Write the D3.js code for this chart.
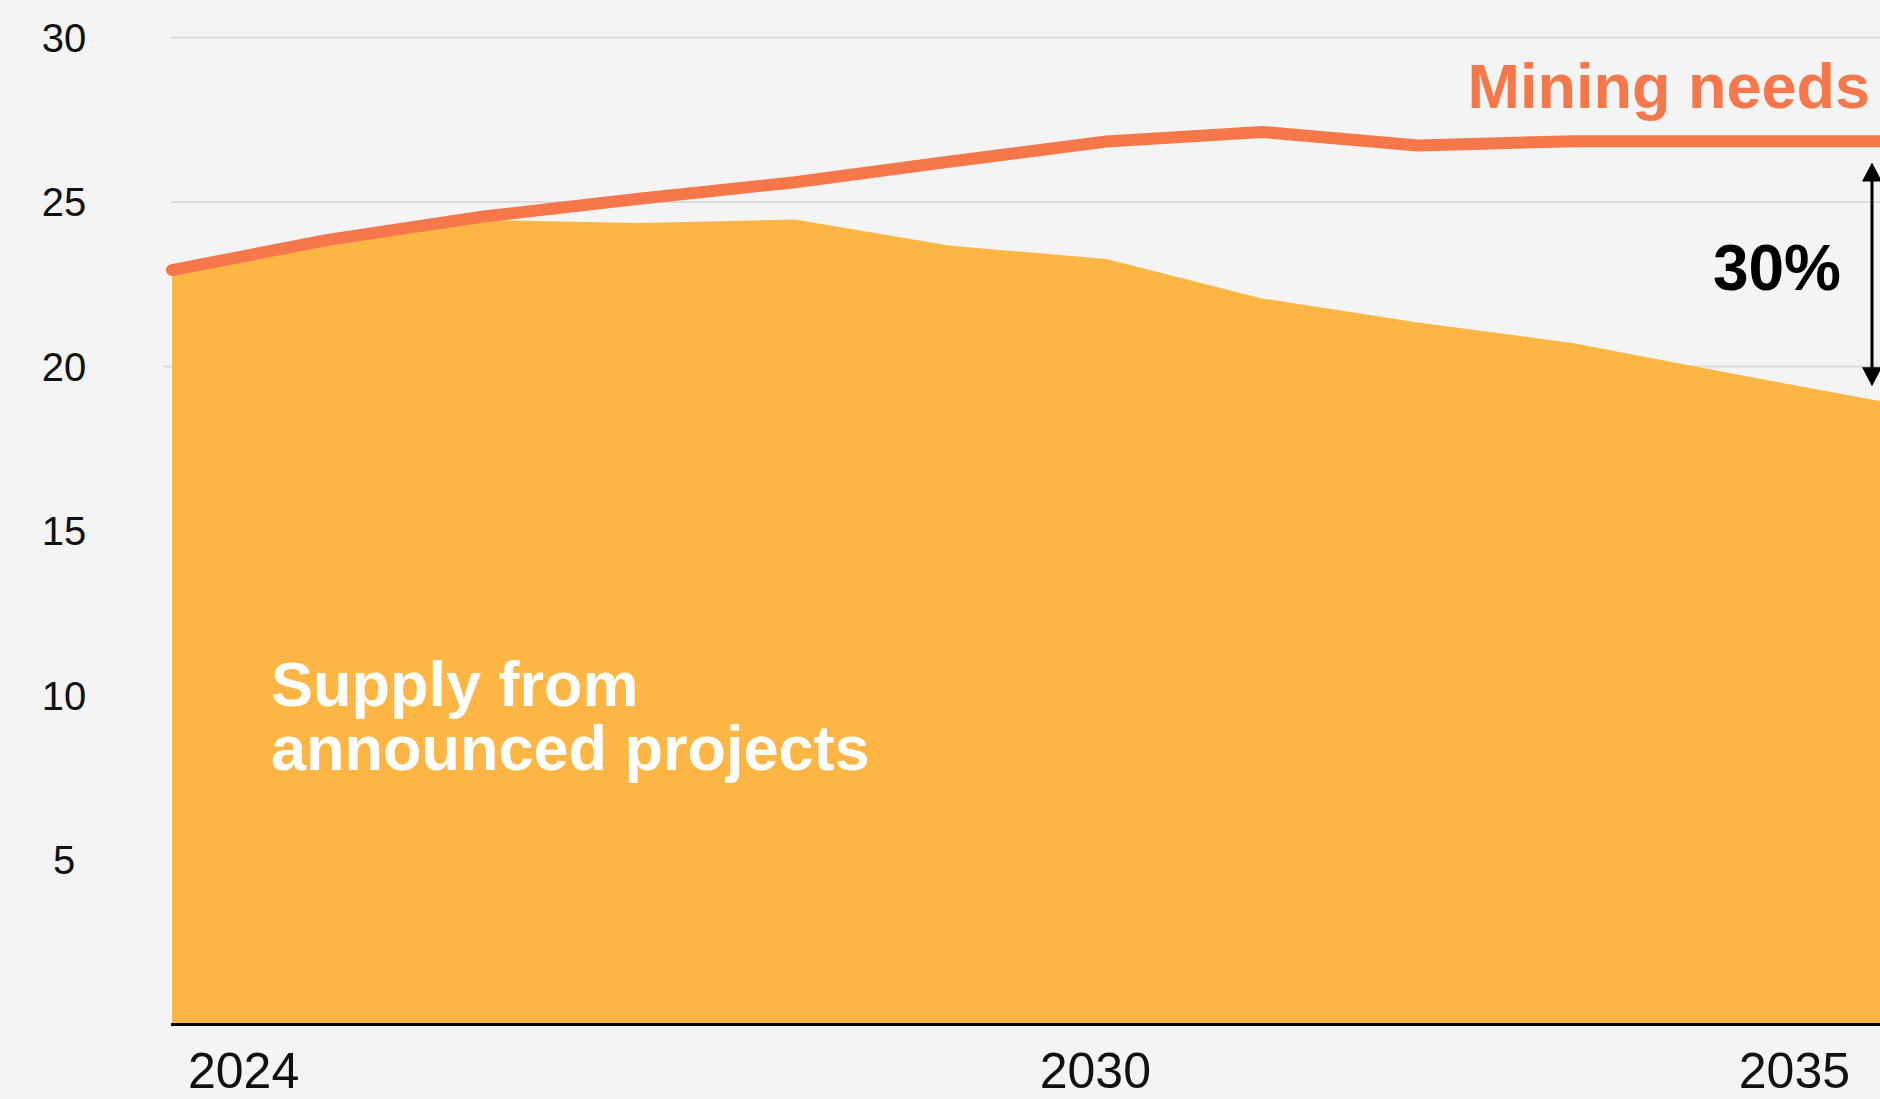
<!DOCTYPE html>
<html>
<head>
<meta charset="utf-8">
<script src="https://cdn.jsdelivr.net/npm/d3@7"></script>
<style>
  html, body { margin: 0; padding: 0; background: #f4f4f4; }
  svg { display: block; font-family: "Liberation Sans", Arial, sans-serif; }
</style>
</head>
<body>
<div class="d3"></div>
<script>
// values (Mt)
var years = [2024, 2025, 2026, 2027, 2028, 2029, 2030, 2031, 2032, 2033, 2034, 2035];
var needs = [22.93, 23.85, 24.56, 25.1, 25.6, 26.23, 26.84, 27.13, 26.72, 26.85, 26.85, 26.85];
var supply = [22.84, 23.8, 24.45, 24.36, 24.47, 23.67, 23.27, 22.07, 21.34, 20.71, 19.8, 18.92];
var yTicks = [5, 10, 15, 20, 25, 30];
var xTicks = [2024, 2030, 2035];
var gapLabel = "30%";

var width = 1880,
    height = 1099;

var x = d3.scaleLinear()
    .domain([2024, 2035])
    .range([172, 1885]);

var y = d3.scaleLinear()
    .domain([0, 30])
    .range([1024.5, 37.5]);

var data = years.map(function(yr, i) { return {year: yr, needs: needs[i], supply: supply[i]}; });

var svg = d3.select(".d3").append("svg")
    .attr("width", width)
    .attr("height", height);

svg.append("rect")
    .attr("width", width)
    .attr("height", height)
    .attr("fill", "#f4f4f4");

// grid (lower lines sit under the area anyway)
svg.append("g")
    .selectAll("line")
    .data(yTicks)
  .enter().append("line")
    .attr("x1", function(d) { return d == 20 ? 163 : (d < 20 ? 180 : 171); })
    .attr("x2", width)
    .attr("y1", function(d) { return y(d); })
    .attr("y2", function(d) { return y(d); })
    .attr("stroke", "#dcdcdc")
    .attr("stroke-width", 2);

// supply area
var area = d3.area()
    .x(function(d) { return x(d.year); })
    .y0(y(0))
    .y1(function(d) { return y(d.supply); });

svg.append("path")
    .datum(data)
    .attr("d", area)
    .attr("fill", "#fdb643");

// baseline
svg.append("line")
    .attr("x1", x(2024) - 1)
    .attr("x2", width)
    .attr("y1", y(0))
    .attr("y2", y(0))
    .attr("stroke", "#000")
    .attr("stroke-width", 3);

// needs line
var line = d3.line()
    .x(function(d) { return x(d.year); })
    .y(function(d) { return y(d.needs); });

svg.append("path")
    .datum(data)
    .attr("d", line)
    .attr("fill", "none")
    .attr("stroke", "#f6784a")
    .attr("stroke-width", 12)
    .attr("stroke-linecap", "round")
    .attr("stroke-linejoin", "round");

// y labels
svg.append("g")
    .selectAll("text")
    .data(yTicks)
  .enter().append("text")
    .attr("x", 64)
    .attr("y", function(d) { return y(d); })
    .attr("dy", "0.36em")
    .attr("text-anchor", "middle")
    .attr("font-size", 40)
    .attr("fill", "#111")
    .text(function(d) { return d; });

// x labels (first one hangs right of its tick, last one is pulled inside the frame)
svg.append("g")
    .selectAll("text")
    .data(xTicks)
  .enter().append("text")
    .attr("x", function(d, i) {
      if (i == 0) return x(d) + 16;
      if (i == xTicks.length - 1) return Math.min(x(d), width) - 30;
      return x(d) - 11;
    })
    .attr("y", 1088)
    .attr("text-anchor", function(d, i) { return i == 0 ? "start" : (i == xTicks.length - 1 ? "end" : "middle"); })
    .attr("font-size", 50)
    .attr("fill", "#111")
    .text(function(d) { return d; });

// series labels
svg.append("text")
    .attr("x", 1870)
    .attr("y", 108)
    .attr("text-anchor", "end")
    .attr("font-size", 63)
    .attr("font-weight", "bold")
    .attr("fill", "#f6784a")
    .text("Mining needs");

var supplyLabel = svg.append("text")
    .attr("x", 271)
    .attr("y", 706)
    .attr("font-size", 63)
    .attr("font-weight", "bold")
    .attr("fill", "#fff");
supplyLabel.append("tspan").attr("x", 271).text("Supply from");
supplyLabel.append("tspan").attr("x", 271).attr("dy", 64).text("announced projects");

// gap arrow
var ax = 1872,
    aTop = y(26.2),
    aBot = y(19.4);

svg.append("line")
    .attr("x1", ax).attr("x2", ax)
    .attr("y1", aTop + 12).attr("y2", aBot - 12)
    .attr("stroke", "#000")
    .attr("stroke-width", 3);

svg.append("path")
    .attr("d", "M" + ax + "," + aTop + "l-10,19h20z")
    .attr("fill", "#000");
svg.append("path")
    .attr("d", "M" + ax + "," + aBot + "l-10,-19h20z")
    .attr("fill", "#000");

svg.append("text")
    .attr("x", 1841)
    .attr("y", 290)
    .attr("text-anchor", "end")
    .attr("font-size", 64)
    .attr("font-weight", "bold")
    .attr("fill", "#000")
    .text(gapLabel);
</script>
</body>
</html>
